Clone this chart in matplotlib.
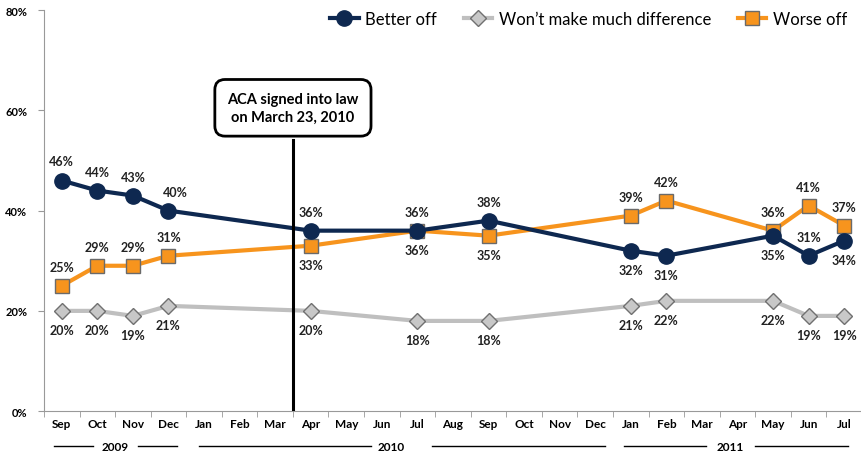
import numpy as np
import matplotlib
matplotlib.use('Agg')
from matplotlib import pyplot as plt

plt.rcParams['font.family'] = ['Lato', 'DejaVu Sans']

months = ['Sep', 'Oct', 'Nov', 'Dec', 'Jan', 'Feb', 'Mar', 'Apr', 'May', 'Jun', 'Jul', 'Aug',
          'Sep', 'Oct', 'Nov', 'Dec', 'Jan', 'Feb', 'Mar', 'Apr', 'May', 'Jun', 'Jul']
# month index of each survey (0 = Sep 2009)
survey_idx = [0, 1, 2, 3, 7, 10, 12, 16, 17, 20, 21, 22]
better = [46, 44, 43, 40, 36, 36, 38, 32, 31, 35, 31, 34]
wont = [20, 20, 19, 21, 20, 18, 18, 21, 22, 22, 19, 19]
worse = [25, 29, 29, 31, 33, 36, 35, 39, 42, 36, 41, 37]
better_pos = ['a', 'a', 'a', 'ar', 'a', 'a', 'a', 'b', 'b', 'b', 'a', 'b']
worse_pos = ['a', 'a', 'a', 'a', 'b', 'b', 'b', 'a', 'a', 'a', 'a', 'a']
years = ['2009', '2010', '2011']

navy = '#0E2850'
orange = '#F7941D'
grey = '#BFBFBF'

fig = plt.figure(figsize=(8.62, 4.6), dpi=100)
ax = fig.add_axes([0.051, 0.104, 0.949, 0.872])

ax.plot(survey_idx, better, color=navy, lw=3, marker='o', ms=11, mfc=navy, mec=navy,
        label='Better off', zorder=4)
ax.plot(survey_idx, wont, color=grey, lw=3, marker='D', ms=8, mfc='#C8C8C8', mec='#707070',
        mew=1, label='Won\u2019t make much difference', zorder=3)
ax.plot(survey_idx, worse, color=orange, lw=3, marker='s', ms=10, mfc=orange, mec='#6A6A6A',
        mew=1, label='Worse off', zorder=3)

lab = dict(ha='center', fontsize=9, fontweight='bold', color='#222222')
for x, y, p in zip(survey_idx, better, better_pos):
    if p == 'a':
        ax.text(x, y + 2.6, f'{y}%', va='bottom', **lab)
    elif p == 'ar':
        ax.text(x + 0.2, y + 2.6, f'{y}%', va='bottom', **lab)
    else:
        ax.text(x, y - 2.6, f'{y}%', va='top', **lab)
for x, y, p in zip(survey_idx, worse, worse_pos):
    if p == 'a':
        ax.text(x, y + 2.6, f'{y}%', va='bottom', **lab)
    else:
        ax.text(x, y - 2.6, f'{y}%', va='top', **lab)
for x, y in zip(survey_idx, wont):
    ax.text(x, y - 2.6, f'{y}%', va='top', **lab)

# ACA signing marker
ax.plot([6.5, 6.5], [0, 54], color='black', lw=2.2, zorder=5)
ax.text(6.5, 60.5, 'ACA signed into law\non March 23, 2010', ha='center', va='center',
        fontsize=10.5, fontweight='bold', linespacing=1.35, zorder=6,
        bbox=dict(boxstyle='round,pad=0.85,rounding_size=0.7', fc='white', ec='black', lw=2))

ax.set_xlim(-0.5, 22.5)
ax.set_ylim(0, 80)
ax.set_yticks([0, 20, 40, 60, 80])
ax.set_yticklabels([f'{v}%' for v in [0, 20, 40, 60, 80]], fontsize=8, fontweight='bold')
ax.set_xticks(range(len(months)))
ax.set_xticklabels(months, fontsize=8.5, fontweight='bold')
ax.set_xticks(np.arange(-0.5, 22.6, 1), minor=True)
ax.tick_params(axis='x', which='major', length=0, pad=5)
ax.tick_params(axis='x', which='minor', length=4, color='#999999')
ax.tick_params(axis='y', length=4, color='#999999', pad=8)
for s in ['top', 'right']:
    ax.spines[s].set_visible(False)
for s in ['left', 'bottom']:
    ax.spines[s].set_color('#999999')

# year labels with lines beneath months
yr_y = -7.0
yr_center = [1.5, 9.27, 18.8]
yr_lines = [((-0.23, 0.87), (2.14, 3.24)), ((3.86, 8.7), (10.4, 15.27)), ((15.8, 18.1), (19.5, 22.1))]
for yr, c, segs in zip(years, yr_center, yr_lines):
    ax.text(c, yr_y, yr, ha='center', va='center', fontsize=8.5, fontweight='bold', clip_on=False)
    for a, b in segs:
        ax.plot([a, b], [yr_y, yr_y], color='black', lw=1, clip_on=False)

ax.legend(loc='upper right', bbox_to_anchor=(1.0, 1.035), ncol=3, frameon=False, fontsize=12,
          handlelength=1.7, columnspacing=1.6, handletextpad=0.4, markerscale=1.0)

fig.savefig('out.png', dpi=100)
